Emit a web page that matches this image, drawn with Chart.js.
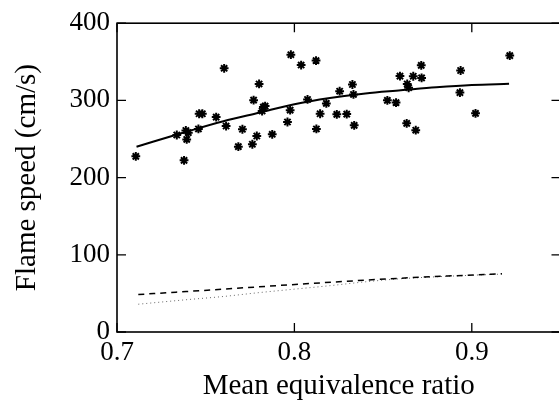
<!DOCTYPE html>
<html>
<head>
<meta charset="utf-8">
<script src="https://cdn.jsdelivr.net/npm/chart.js@4"></script>
<style>
  html, body { margin: 0; padding: 0; background: #fff; overflow: hidden; }
  #wrap { position: relative; width: 570px; height: 418px; }
</style>
</head>
<body>
<div id="wrap"><canvas id="c"></canvas></div>
<script>
// ---- Data ----
const starX = [0.7106,0.7337,0.7378,0.7388,0.7402,0.7393,0.7459,0.7463,0.7481,0.7559,
               0.7604,0.7615,0.7684,0.7707,0.7763,0.7770,0.7788,0.7801,0.7818,0.7825,
               0.7835,0.7875,0.7961,0.7976,0.7980,0.8038,0.8074,0.8122,0.8124,0.8145,
               0.8180,0.8239,0.8255,0.8295,0.8327,0.8333,0.8337,0.8524,0.8573,0.8595,
               0.8633,0.8636,0.8644,0.8670,0.8684,0.8715,0.8717,0.8937,0.8933,0.9021,
               0.9214];
const starY = [227.5,255.2,222.4,261.0,258.2,249.4,263.0,282.7,282.7,278.4,
               341.6,266.8,240.1,262.6,243.2,300.3,253.9,321.3,286.2,291.3,
               292.6,256.1,272.0,287.4,359.2,345.8,301.2,351.6,263.0,282.7,
               296.1,281.9,311.9,282.3,320.6,307.7,267.7,300.1,297.2,331.5,
               270.3,321.3,316.4,331.3,261.4,345.4,329.1,338.7,310.1,283.2,
               358.0];

const fitX = [0.711, 0.74, 0.76, 0.78, 0.80, 0.82, 0.84, 0.86, 0.88, 0.90, 0.921];
const fitY = [240,   260,  273,  284,  295,  303,  309,  313,  317,  320,  321.5];

const dashX = [0.712, 0.76, 0.81, 0.86, 0.917];
const dashY = [48.5,  55.5, 63,   69.7, 75.5];

const dotX = [0.712, 0.74, 0.76, 0.78, 0.80, 0.82, 0.84, 0.86, 0.88, 0.90, 0.917];
const dotY = [36,    42,   46,   51,   55.5, 60,   65,   69,   71.5, 73.5, 75];

const xTickValues = [0.7, 0.8, 0.9];
const xTickLabels = ['0.7', '0.8', '0.9'];
const yTickValues = [0, 100, 200, 300, 400];
const yTickLabels = ['0', '100', '200', '300', '400'];

const xTitle = 'Mean equivalence ratio';
const yTitle = 'Flame speed (cm/s)';

// ---- helpers ----
const pts = (xs, ys) => xs.map((x, i) => ({x: x, y: ys[i]}));
const FONT = '"Liberation Serif", "Times New Roman", serif';

const framePlugin = {
  id: 'frame',
  afterDatasetsDraw(chart) {
    const {ctx, chartArea: a, scales} = chart;
    const xs = scales.x, ys = scales.y;
    ctx.save();
    ctx.strokeStyle = '#000';
    ctx.lineWidth = 1.6;
    ctx.strokeRect(a.left, a.top, a.right - a.left, a.bottom - a.top);
    ctx.lineWidth = 1.3;
    const L = 9;
    ctx.beginPath();
    yTickValues.forEach(v => {
      const p = ys.getPixelForValue(v);
      ctx.moveTo(a.left, p); ctx.lineTo(a.left + L, p);
      ctx.moveTo(a.right, p); ctx.lineTo(a.right - L, p);
    });
    xTickValues.forEach(v => {
      const p = xs.getPixelForValue(v);
      ctx.moveTo(p, a.bottom); ctx.lineTo(p, a.bottom - L);
      ctx.moveTo(p, a.top); ctx.lineTo(p, a.top + L);
    });
    ctx.stroke();
    ctx.restore();
  }
};

new Chart(document.getElementById('c'), {
  type: 'scatter',
  data: {
    datasets: [
      {
        label: 'data',
        data: pts(starX, starY),
        pointStyle: 'star',
        pointRadius: 4.4,
        pointBorderWidth: 2,
        borderColor: '#000',
        backgroundColor: '#000',
        showLine: false
      },
      {
        label: 'fit',
        data: pts(fitX, fitY),
        showLine: true,
        borderColor: '#000',
        borderWidth: 2,
        pointRadius: 0,
        cubicInterpolationMode: 'monotone',
        fill: false
      },
      {
        label: 'dashed',
        data: pts(dashX, dashY),
        showLine: true,
        borderColor: '#000',
        borderWidth: 1.5,
        borderDash: [6, 5],
        pointRadius: 0,
        cubicInterpolationMode: 'monotone',
        fill: false
      },
      {
        label: 'dotted',
        data: pts(dotX, dotY),
        showLine: true,
        borderColor: '#666',
        borderWidth: 1,
        borderDash: [1, 3],
        pointRadius: 0,
        cubicInterpolationMode: 'monotone',
        fill: false
      }
    ]
  },
  options: {
    responsive: true,
    maintainAspectRatio: false,
    animation: false,
    events: [],
    layout: { padding: { top: 22, right: 9.5, left: 0, bottom: 0 } },
    plugins: { legend: { display: false }, tooltip: { enabled: false } },
    scales: {
      x: {
        type: 'linear',
        min: 0.7, max: 0.95,
        afterBuildTicks: s => { s.ticks = xTickValues.map(v => ({value: v})); },
        afterFit: s => { s.height = 86; },
        grid: { display: false, drawTicks: false },
        border: { display: false },
        ticks: {
          padding: 5,
          color: '#000',
          font: { family: FONT, size: 27 },
          maxRotation: 0,
          callback: (v) => { const i = xTickValues.findIndex(t => Math.abs(t - v) < 1e-9); return i >= 0 ? xTickLabels[i] : ''; }
        },
        title: {
          display: true, text: xTitle, color: '#000',
          font: { family: FONT, size: 29 },
          padding: { top: 0, bottom: 14.6 }
        }
      },
      y: {
        type: 'linear',
        min: 0, max: 400,
        afterBuildTicks: s => { s.ticks = yTickValues.map(v => ({value: v})); },
        afterFit: s => { s.width = 117; },
        grid: { display: false, drawTicks: false },
        border: { display: false },
        ticks: {
          padding: 7,
          color: '#000',
          font: { family: FONT, size: 27 },
          callback: (v) => { const i = yTickValues.indexOf(v); return i >= 0 ? yTickLabels[i] : ''; }
        },
        title: {
          display: true, text: yTitle, color: '#000',
          font: { family: FONT, size: 29 },
          padding: { top: 9.6, bottom: 0 }
        }
      }
    }
  },
  plugins: [framePlugin]
});
</script>
</body>
</html>
